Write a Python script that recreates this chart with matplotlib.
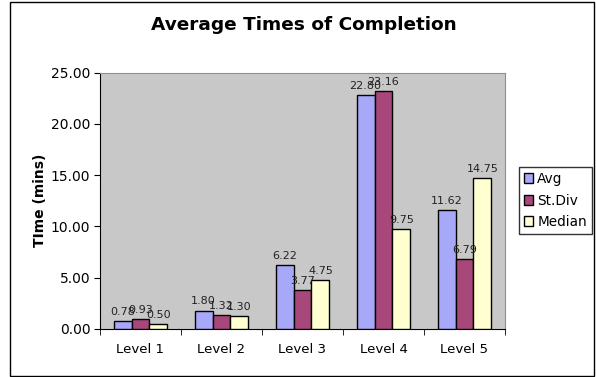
import numpy as np
import matplotlib.pyplot as plt
from matplotlib.patches import Rectangle

levels = ['Level 1', 'Level 2', 'Level 3', 'Level 4', 'Level 5']
avg = [0.78, 1.80, 6.22, 22.80, 11.62]
st_div = [0.93, 1.32, 3.77, 23.16, 6.79]
median = [0.50, 1.30, 4.75, 9.75, 14.75]

series = [('Avg', avg, '#A8A8F8'),
          ('St.Div', st_div, '#A8487A'),
          ('Median', median, '#FFFFD0')]

fig = plt.figure(figsize=(5.96, 3.77), dpi=100)
ax = fig.add_axes([100/596, 1 - 329/377, 405/596, (329 - 72.5)/377])

# outer chart frame
fig.patches.append(Rectangle((10/596, 1/377), 584/596, 374/377, transform=fig.transFigure,
                             fill=False, edgecolor='black', linewidth=1.0))

x = np.arange(len(levels))
w = 0.222
for i, (name, vals, col) in enumerate(series):
    pos = x + (i - 1)*w
    ax.bar(pos, vals, width=w, color=col, edgecolor='black', linewidth=1.0, label=name, zorder=3)
    for px, v in zip(pos, vals):
        ax.text(px, v + 0.4, '%.2f' % v, ha='center', va='bottom', fontsize=8, color='#222222', zorder=4)

ax.set_facecolor('#C8C8C8')
ax.set_xlim(-0.5, len(levels) - 0.5)
ax.set_ylim(0, 25)
ax.set_yticks(np.arange(0, 26, 5))
ax.set_yticklabels(['%.2f' % t for t in np.arange(0, 26, 5)], fontsize=10)
ax.set_xticks(x)
ax.set_xticklabels(levels, fontsize=9.6)
ax.tick_params(axis='x', length=0, pad=10)
ax.set_xticks(np.arange(-0.5, len(levels)), minor=True)
ax.tick_params(axis='x', which='minor', length=4, direction='out')
ax.tick_params(axis='y', length=4, direction='out', pad=3)

for s in ['top', 'right']:
    ax.spines[s].set_color('#909090')
for s in ['left', 'bottom']:
    ax.spines[s].set_color('black')

ax.set_ylabel('TIme (mins)', fontsize=10, fontweight='bold', labelpad=3)
fig.text(304/596, 1 - 25/377, 'Average Times of Completion', ha='center', va='center',
         fontsize=13.3, fontweight='bold')

leg = ax.legend(loc='center left', bbox_to_anchor=(519/596, 1 - 200.5/377), bbox_transform=fig.transFigure,
                fontsize=9.8, frameon=True, fancybox=False, edgecolor='black', handlelength=0.7,
                handleheight=0.7, handletextpad=0.3, borderpad=0.35, labelspacing=0.55,
                borderaxespad=0)
leg.get_frame().set_linewidth(1.0)

fig.savefig('out.png', dpi=100)
